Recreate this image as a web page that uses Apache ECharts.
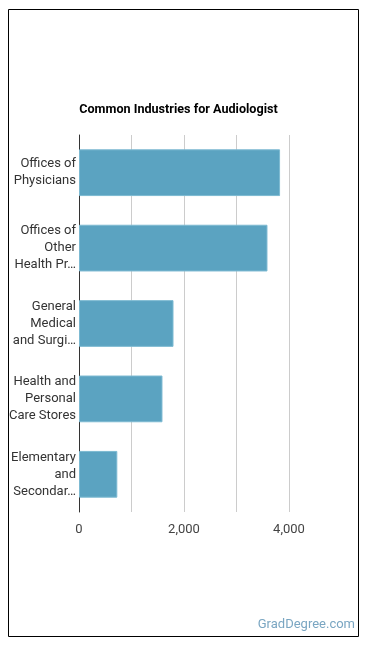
<!DOCTYPE html>
<html>
<head>
<meta charset="utf-8">
<script src="https://cdn.jsdelivr.net/npm/echarts@6/dist/echarts.min.js"></script>
<style>html,body{margin:0;padding:0;background:#fff}#c{width:370px;height:648px}</style>
</head>
<body>
<div id="c"></div>
<script>
var categories = ["Offices of\nPhysicians", "Offices of\nOther\nHealth Pr…", "General\nMedical\nand Surgi…", "Health and\nPersonal\nCare Stores", "Elementary\nand\nSecondar…"];
var values = [3830, 3590, 1800, 1590, 730];
var xTicks = [0, 2000, 4000];
var titleText = "Common Industries for Audiologist";
var sourceText = "GradDegree.com";

var chart = echarts.init(document.getElementById('c'), null, {renderer: 'canvas'});
chart.setOption({
  animation: false,
  graphic: [
    {type: 'rect', shape: {x: 8.5, y: 9.5, width: 350, height: 627}, style: {fill: 'none', stroke: '#000', lineWidth: 1}, silent: true},
    {type: 'text', x: 178.5, y: 110, style: {text: titleText, font: 'bold 12.6px Roboto', fill: '#000', textAlign: 'center', textVerticalAlign: 'middle'}},
    {type: 'text', right: 15, top: 618, style: {text: sourceText, font: '13px Roboto', fill: '#7aa6c2'}}
  ],
  grid: {left: 79, right: 81, top: 135, bottom: 136, containLabel: false},
  xAxis: {
    type: 'value', min: 0, max: 4000, interval: 1000,
    axisLine: {show: false}, axisTick: {show: false},
    splitLine: {show: true, lineStyle: {color: '#cccccc', width: 1}},
    axisLabel: {
      margin: 11, color: '#444', fontFamily: 'Roboto', fontSize: 13,
      formatter: function (v) { return xTicks.indexOf(v) >= 0 ? v.toLocaleString('en-US') : ''; }
    }
  },
  yAxis: {
    type: 'category', data: categories, inverse: true,
    axisLine: {show: true, lineStyle: {color: '#333', width: 1}},
    axisTick: {show: false},
    axisLabel: {margin: 3, color: '#333', fontFamily: 'Roboto', fontSize: 13, lineHeight: 17, align: 'right'}
  },
  series: [{
    type: 'bar', data: values, barCategoryGap: '38%',
    itemStyle: {color: '#5ba3c1', borderColor: '#7dbad2', borderWidth: 1}
  }]
});
</script>
</body>
</html>
